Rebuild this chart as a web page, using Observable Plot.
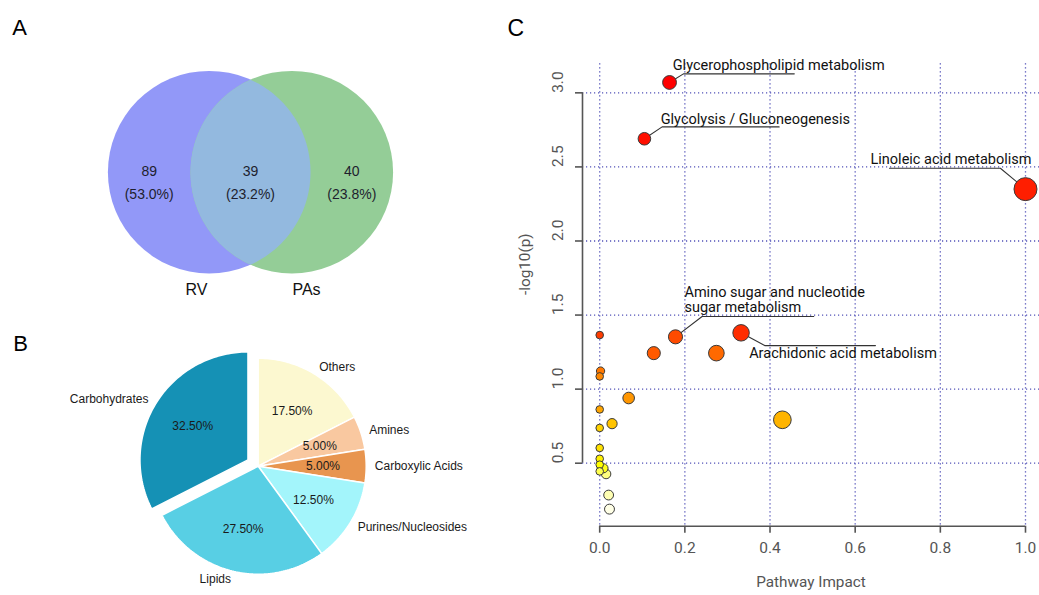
<!DOCTYPE html>
<html><head><meta charset="utf-8">
<script src="https://cdn.jsdelivr.net/npm/d3@7"></script>
<script src="https://cdn.jsdelivr.net/npm/@observablehq/plot@0.6"></script>
<style>
html,body{margin:0;padding:0;background:#fff;overflow:hidden;}
#root{position:relative;width:1039px;height:595px;}
.panel{position:absolute;}
.panel svg{overflow:visible;}
</style></head><body><div id="root"></div>
<script>
// ---------- Panel A: Venn ----------
const vennSets = ["RV", "PAs"];
const vennRegions = ["RV only", "RV and PAs", "PAs only"];
const vennCounts = [89, 39, 40];
const vennPercents = ["53.0%", "23.2%", "23.8%"];
const vennColors = ["#9298f8", "#94cd97"];
const vennOverlapColor = "#93b9df";

// ---------- Panel B: Pie ----------
const pieCategories = ["Others", "Amines", "Carboxylic Acids", "Purines/Nucleosides", "Lipids", "Carbohydrates"];
const pieValues = [17.5, 5.0, 5.0, 12.5, 27.5, 32.5];
const pieColors = ["#fcf8d0", "#f9c8a0", "#e8954f", "#a3f5fb", "#58cfe4", "#1591b5"];
const pieExploded = ["Carbohydrates"];

// ---------- Panel C: pathway bubble ----------
const pathwayImpact = [0.164, 0.105, 1.0, 0.332, 0.0, 0.178, 0.127, 0.274, 0.002, 0.0, 0.068, 0.0, 0.429, 0.029, 0.0, 0.0, 0.0, 0.0, 0.009, 0.0, 0.015, 0.021, 0.023];
const negLogP = [3.07, 2.69, 2.35, 1.38, 1.365, 1.353, 1.243, 1.243, 1.122, 1.086, 0.94, 0.863, 0.793, 0.767, 0.738, 0.603, 0.53, 0.49, 0.466, 0.445, 0.427, 0.285, 0.19];
const pathwayNames = ["Glycerophospholipid metabolism", "Glycolysis / Gluconeogenesis", "Linoleic acid metabolism", "Arachidonic acid metabolism", "", "Amino sugar and nucleotide sugar metabolism", "", "", "", "", "", "", "", "", "", "", "", "", "", "", "", "", ""];
const xTicks = [0, 0.2, 0.4, 0.6, 0.8, 1.0];
const yTicks = [0.5, 1.0, 1.5, 2.0, 2.5, 3.0];
const xTitle = "Pathway Impact";
const yTitle = "-log10(p)";

// label annotation layout (data units)
const labelLayout = [
  {name: "Glycerophospholipid metabolism", text: "Glycerophospholipid metabolism", tx: 0.1715, ty: 3.189, ux1: 0.1966, ux2: 0.457, uy: 3.128, attach: "start"},
  {name: "Glycolysis / Gluconeogenesis", text: "Glycolysis / Gluconeogenesis", tx: 0.1433, ty: 2.825, ux1: 0.1466, ux2: 0.4214, uy: 2.770, attach: "start"},
  {name: "Linoleic acid metabolism", text: "Linoleic acid metabolism", tx: 0.636, ty: 2.550, ux1: 0.6805, ux2: 0.941, uy: 2.491, attach: "end"},
  {name: "Amino sugar and nucleotide sugar metabolism", text: "Amino sugar and nucleotide\nsugar metabolism", tx: 0.199, ty: 1.6015, ux1: 0.2405, ux2: 0.5027, uy: 1.490, attach: "start"},
  {name: "Arachidonic acid metabolism", text: "Arachidonic acid metabolism", tx: 0.351, ty: 1.245, ux1: 0.3876, ux2: 0.6476, uy: 1.294, attach: "start"}
];

const SANS = "Liberation Sans, Arial, Helvetica, sans-serif";
const ROBO = "Roboto, Liberation Sans, sans-serif";
const root = document.getElementById("root");
function place(svg, left, top) {
  const d = document.createElement("div");
  d.className = "panel"; d.style.left = left + "px"; d.style.top = top + "px";
  d.appendChild(svg); root.appendChild(d);
}

// ===== Panel A =====
{
  const W = 500, H = 320;
  const R = 101.3, cy = 171.7, c1 = 208.7, c2 = 291.3;
  const circles = vennSets.map((s, i) => ({set: s, x: [c1, c2][i], y: cy, fill: vennColors[i]}));
  const h = (c2 - c1) / 2, th = Math.acos(h / R);
  const lens = [];
  for (let i = 0; i <= 80; i++) { const a = -th + 2 * th * i / 80; lens.push({x: c1 + R * Math.cos(a), y: cy + R * Math.sin(a)}); }
  for (let i = 0; i <= 80; i++) { const a = Math.PI - th + 2 * th * i / 80; lens.push({x: c2 + R * Math.cos(a), y: cy + R * Math.sin(a)}); }
  const regionX = [c1 - 60, (c1 + c2) / 2, c2 + 60];
  const regionLabels = vennRegions.map((r, i) => ({region: r, x: regionX[i], count: String(vennCounts[i]), pct: "(" + vennPercents[i] + ")"}));
  const setLabelX = [(c1 + c2) / 2 - 54, (c1 + c2) / 2 + 56];
  const setLabels = vennSets.map((s, i) => ({s, x: setLabelX[i]}));
  const svg = Plot.plot({
    width: W, height: H, margin: 0,
    x: {domain: [0, W], range: [0, W], axis: null},
    y: {domain: [0, H], range: [0, H], axis: null},
    style: {fontFamily: SANS, background: "transparent"},
    marks: [
      Plot.dot(circles, {x: "x", y: "y", r: R, fill: "fill", stroke: "none"}),
      Plot.line(lens, {x: "x", y: "y", fill: vennOverlapColor, stroke: "none"}),
      Plot.text(regionLabels, {x: "x", y: cy - 1, text: "count", fontSize: 14, fill: "#1e1e2e"}),
      Plot.text(regionLabels, {x: "x", y: cy + 22.6, text: "pct", fontSize: 14, fill: "#1e1e2e"}),
      Plot.text(setLabels, {x: "x", y: 289.3, text: "s", fontSize: 16, fill: "#111"}),
      Plot.text(["A"], {x: 11.7, y: 34, text: d => d, textAnchor: "start", lineAnchor: "bottom", fontSize: 22, fill: "#000"})
    ]
  });
  place(svg, 0, 0);
}

// ===== Panel B =====
{
  const W = 500, H = 275;
  const pcx = 257.7, pcy = 145.7, PR = 108, explode = 12;
  const arcs = d3.pie().sort(null).value(d => d)(pieValues);
  const slicePts = [], pctPts = [], namePts = [];
  arcs.forEach((a, i) => {
    const cat = pieCategories[i];
    const mid = (a.startAngle + a.endAngle) / 2;
    const off = pieExploded.includes(cat) ? explode : 0;
    const ox = pcx + off * Math.sin(mid), oy = pcy - off * Math.cos(mid);
    slicePts.push({cat, x: ox, y: oy});
    const N = Math.max(8, Math.ceil((a.endAngle - a.startAngle) / 0.02));
    for (let k = 0; k <= N; k++) {
      const t = a.startAngle + (a.endAngle - a.startAngle) * k / N;
      slicePts.push({cat, x: ox + PR * Math.sin(t), y: oy - PR * Math.cos(t)});
    }
    slicePts.push({cat, x: ox, y: oy});
    pctPts.push({cat, x: ox + 0.6 * PR * Math.sin(mid), y: oy - 0.6 * PR * Math.cos(mid), text: pieValues[i].toFixed(2) + "%"});
    namePts.push({cat, x: ox + 1.08 * PR * Math.sin(mid), y: oy - 1.08 * PR * Math.cos(mid), right: Math.sin(mid) >= 0});
  });
  const svg = Plot.plot({
    width: W, height: H, margin: 0,
    x: {domain: [0, W], range: [0, W], axis: null},
    y: {domain: [0, H], range: [0, H], axis: null},
    color: {domain: pieCategories, range: pieColors},
    style: {fontFamily: SANS, background: "transparent"},
    marks: [
      Plot.line(slicePts, {x: "x", y: "y", z: "cat", fill: "cat", stroke: "#fff", strokeWidth: 1.5, strokeLinejoin: "miter"}),
      Plot.text(pctPts, {x: "x", y: "y", text: "text", fontSize: 12, fill: "#1a1a1a"}),
      Plot.text(namePts.filter(d => d.right), {x: "x", y: "y", text: "cat", textAnchor: "start", fontSize: 12, fill: "#1a1a1a"}),
      Plot.text(namePts.filter(d => !d.right), {x: "x", y: "y", text: "cat", textAnchor: "end", fontSize: 12, fill: "#1a1a1a"}),
      Plot.text(["B"], {x: 12.7, y: 30.7, text: d => d, textAnchor: "start", lineAnchor: "bottom", fontSize: 22, fill: "#000"})
    ]
  });
  place(svg, 0, 320);
}

// ===== Panel C =====
{
  const n = negLogP.length;
  // R heat.colors(n), assigned by rank of -log10(p) (descending)
  function heatColors(n) {
    const j = Math.floor(n / 4), i = n - j, out = [];
    for (let k = 0; k < i; k++) out.push(`rgb(255,${Math.round(255 * (i > 1 ? k / (i - 1) : 0))},0)`);
    for (let k = 0; k < j; k++) {
      const s = j > 1 ? (1 - 1 / (2 * j)) + ((1 / (2 * j)) - (1 - 1 / (2 * j))) * k / (j - 1) : 0.5;
      out.push(`rgb(255,255,${Math.round(255 * (1 - s))})`);
    }
    return out;
  }
  const pal = heatColors(n);
  const order = d3.range(n).sort((a, b) => negLogP[b] - negLogP[a]);
  const rank = new Array(n); order.forEach((idx, r) => rank[idx] = r);
  const pts = d3.range(n).map(i => ({x: pathwayImpact[i], y: negLogP[i], name: pathwayNames[i], fill: pal[rank[i]]}));
  const drawPts = order.map(i => pts[i]);
  const byName = new Map(pts.filter(d => d.name).map(d => [d.name, d]));
  const leaders = [];
  labelLayout.forEach(L => {
    const p = byName.get(L.name);
    const seq = L.attach === "start"
      ? [[p.x, p.y], [L.ux1, L.uy], [L.ux2, L.uy]]
      : [[L.ux1, L.uy], [L.ux2, L.uy], [p.x, p.y]];
    seq.forEach(([x, y]) => leaders.push({name: L.name, x, y}));
  });
  const xDomain = [-0.0404, 1.0329], yDomain = [0.0748, 3.196];
  const gridStyle = {stroke: "#5252b8", strokeDasharray: "1.2,2.8", strokeWidth: 1.3};
  const fmt = d3.format(".1f");
  const svg = Plot.plot({
    width: 539, height: 595, marginLeft: 82, marginRight: 0, marginTop: 63.3, marginBottom: 69.3,
    x: {domain: xDomain},
    y: {domain: yDomain},
    r: {type: "sqrt", domain: [0, 1], range: [3.8, 11.5]},
    color: {type: "identity"},
    style: {fontFamily: ROBO, background: "transparent"},
    marks: [
      Plot.ruleX(xTicks, gridStyle),
      Plot.ruleY(yTicks, gridStyle),
      Plot.ruleY([xDomain && yDomain[0]], {x1: xTicks[0], x2: xTicks[xTicks.length - 1], stroke: "#555", strokeWidth: 1.6}),
      Plot.ruleX([xDomain[0]], {y1: yTicks[0], y2: yTicks[yTicks.length - 1], stroke: "#555", strokeWidth: 1.6}),
      Plot.axisX({ticks: xTicks, tickSize: 7, tickFormat: () => "", label: null, stroke: "#555", strokeWidth: 1.6}),
      Plot.axisY({ticks: yTicks, tickSize: 7, tickFormat: () => "", label: null, stroke: "#555", strokeWidth: 1.6}),
      Plot.text(xTicks, {x: d => d, frameAnchor: "bottom", dy: 26.6, text: d => fmt(d), fontSize: 15.5, fill: "#555"}),
      Plot.text(yTicks, {y: d => d, frameAnchor: "left", dx: -24.3, rotate: -90, text: d => fmt(d), fontSize: 15.5, fill: "#555"}),
      Plot.text([xTitle], {frameAnchor: "bottom", dy: 61, text: d => d, fontSize: 15.3, fill: "#555"}),
      Plot.text([yTitle], {frameAnchor: "left", dx: -57, rotate: -90, text: d => d, fontSize: 15.3, fill: "#555"}),
      Plot.line(leaders, {x: "x", y: "y", z: "name", stroke: "#333", strokeWidth: 1.1, curve: "linear"}),
      Plot.dot(drawPts, {x: "x", y: "y", r: "x", fill: "fill", stroke: "#3a3a3a", strokeWidth: 1}),
      Plot.text(labelLayout, {x: "tx", y: "ty", text: "text", textAnchor: "start", fontSize: 14.5, fill: "#111", lineHeight: 1.03}),
      Plot.text(["C"], {frameAnchor: "top-left", dx: -75, dy: -27.8, text: d => d, textAnchor: "start", lineAnchor: "bottom", fontSize: 23, fontFamily: SANS, fill: "#000"})
    ]
  });
  place(svg, 500, 0);
}
</script></body></html>
